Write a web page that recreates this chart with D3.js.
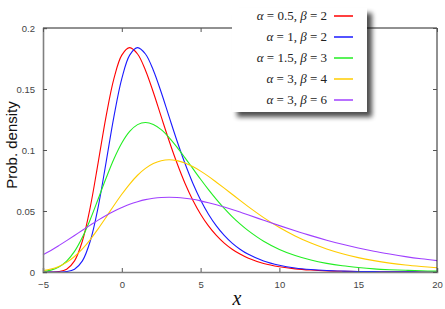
<!DOCTYPE html>
<html>
<head>
<meta charset="utf-8">
<script src="https://cdn.jsdelivr.net/npm/d3@7"></script>
<style>
  body { margin: 0; background: #fff; }
  svg { display: block; }
</style>
</head>
<body>
<div class="chart"></div>
<script>
const xs = [-5, -4.5, -4, -3.5, -3, -2.5, -2, -1.5, -1, -0.5, 0, 0.5, 1, 1.5, 2, 2.5, 3, 3.5, 4, 4.5,
            5, 5.5, 6, 6.5, 7, 7.5, 8, 9, 10, 11, 12, 13, 14, 15, 16, 17, 18, 19, 20];

// density values, one array per curve
const red = [0, 0.00003, 0.00036, 0.0023, 0.0091, 0.0254, 0.0532, 0.0897, 0.1274, 0.1585, 0.1778, 0.1839, 0.1787, 0.1654, 0.1473, 0.1273, 0.1076, 0.0893, 0.0730, 0.0591,
             0.0474, 0.0378, 0.0300, 0.0237, 0.0187, 0.0147, 0.0115, 0.0070, 0.0043, 0.0026, 0.0016, 0.00096, 0.00059, 0.00036, 0.00022, 0.00013, 0.00008, 0.00005, 0.00003];
const blue = [0, 0, 0.00003, 0.00036, 0.0023, 0.0091, 0.0254, 0.0532, 0.0897, 0.1274, 0.1585, 0.1778, 0.1839, 0.1787, 0.1654, 0.1473, 0.1273, 0.1076, 0.0893, 0.0730,
              0.0591, 0.0474, 0.0378, 0.0300, 0.0237, 0.0187, 0.0147, 0.0090, 0.0055, 0.0033, 0.0020, 0.0012, 0.00075, 0.00046, 0.00028, 0.00017, 0.0001, 0.00006, 0.00004];
const green = [0.00047, 0.00152, 0.0040, 0.0089, 0.0169, 0.0285, 0.0431, 0.0598, 0.0768, 0.0926, 0.1057, 0.1152, 0.1208, 0.1226, 0.1210, 0.1167, 0.1102, 0.1024, 0.0938, 0.0849,
               0.0760, 0.0675, 0.0595, 0.0521, 0.0454, 0.0394, 0.0341, 0.0252, 0.0185, 0.0135, 0.0098, 0.0071, 0.0051, 0.0037, 0.0026, 0.0019, 0.0014, 0.00097, 0.0007];
const yellow = [0.00114, 0.0024, 0.0046, 0.0079, 0.0127, 0.0189, 0.0266, 0.0354, 0.0448, 0.0545, 0.0637, 0.0721, 0.0793, 0.0849, 0.0889, 0.0912, 0.0920, 0.0913, 0.0894, 0.0864,
                0.0827, 0.0784, 0.0736, 0.0687, 0.0637, 0.0587, 0.0538, 0.0446, 0.0365, 0.0296, 0.0237, 0.0189, 0.0150, 0.0118, 0.0093, 0.0073, 0.0057, 0.0045, 0.0035];
const purple = [0.0142, 0.0177, 0.0216, 0.0257, 0.0299, 0.0342, 0.0384, 0.0425, 0.0463, 0.0498, 0.0528, 0.0555, 0.0576, 0.0593, 0.0604, 0.0611, 0.0613, 0.0611, 0.0605, 0.0596,
                0.0583, 0.0568, 0.0551, 0.0532, 0.0512, 0.0491, 0.0469, 0.0424, 0.0380, 0.0338, 0.0298, 0.0261, 0.0227, 0.0197, 0.0170, 0.0147, 0.0126, 0.0108, 0.0093];

// legend labels: [alpha, beta]
const alphas = ["0.5", "1", "1.5", "3", "3"];
const betas = ["2", "2", "3", "4", "6"];
const colors = ["#ff0000", "#1a1aff", "#22ee22", "#ffcc00", "#a040ff"];
const series = [red, blue, green, yellow, purple];

const xTicks = [-5, 0, 5, 10, 15, 20];
const yTicks = [0, 0.05, 0.1, 0.15, 0.2];
const yTickLabels = ["0", "0.05", "0.1", "0.15", "0.2"];

const W = 445, H = 309;
const margin = { top: 28, right: 8, bottom: 37, left: 43 };
const width = W - margin.left - margin.right;
const height = H - margin.top - margin.bottom;

const root = d3.select(".chart").append("svg")
    .attr("width", W)
    .attr("height", H);

// shadow for the legend
const filt = root.append("defs").append("filter")
    .attr("id", "shadow")
    .attr("x", "-20%").attr("y", "-20%")
    .attr("width", "150%").attr("height", "150%");
filt.append("feGaussianBlur").attr("in", "SourceAlpha").attr("stdDeviation", 2.5);
filt.append("feOffset").attr("dx", 5).attr("dy", 5).attr("result", "blur");
filt.append("feComponentTransfer").append("feFuncA").attr("type", "linear").attr("slope", 0.7);

const svg = root.append("g")
    .attr("transform", `translate(${margin.left}, ${margin.top})`);

const xScale = d3.scaleLinear().domain([-5, 20]).range([0, width]);
const yScale = d3.scaleLinear().domain([0, 0.2]).range([height, 0]);

// curves
const line = d3.line()
    .x(d => xScale(d[0]))
    .y(d => yScale(d[1]))
    .curve(d3.curveCatmullRom);

series.forEach((vals, i) => {
    svg.append("path")
        .datum(xs.map((x, j) => [x, vals[j]]))
        .attr("d", line)
        .attr("fill", "none")
        .attr("stroke", colors[i])
        .attr("stroke-width", 1.1);
});

// frame: top and right dark, left and bottom grey
svg.append("line").attr("x1", 0).attr("x2", width).attr("y1", 0).attr("y2", 0)
    .attr("stroke", "#222").attr("stroke-width", 1);
svg.append("line").attr("x1", width).attr("x2", width).attr("y1", 0).attr("y2", height)
    .attr("stroke", "#222").attr("stroke-width", 1);

// axes with inner ticks
const xAxis = d3.axisBottom(xScale).tickValues(xTicks).tickSize(-4).tickPadding(9).tickFormat(d3.format("d"));
const yAxis = d3.axisLeft(yScale).tickValues(yTicks).tickSize(-4).tickPadding(8)
    .tickFormat((d, i) => yTickLabels[i]);

const gx = svg.append("g").attr("transform", `translate(0, ${height})`).call(xAxis);
const gy = svg.append("g").call(yAxis);
[gx, gy].forEach(g => {
    g.select(".domain").attr("stroke", "#808080").attr("stroke-width", 1.6);
    g.selectAll(".tick line").attr("stroke", "#555");
    g.selectAll(".tick text")
        .attr("fill", "#444")
        .style("font-family", "'Liberation Sans', Arial, sans-serif")
        .style("font-size", "9.5px");
});

// mirrored ticks on top and right
svg.append("g").call(d3.axisTop(xScale).tickValues(xTicks).tickSize(-4).tickFormat(""))
    .call(g => g.select(".domain").remove())
    .selectAll(".tick line").attr("stroke", "#555");
svg.append("g").attr("transform", `translate(${width}, 0)`)
    .call(d3.axisRight(yScale).tickValues(yTicks).tickSize(-4).tickFormat(""))
    .call(g => g.select(".domain").remove())
    .selectAll(".tick line").attr("stroke", "#555");

// axis titles
root.append("text")
    .attr("transform", "translate(17, 145) rotate(-90)")
    .attr("text-anchor", "middle")
    .style("font-family", "'Liberation Sans', Arial, sans-serif")
    .style("font-size", "15px")
    .attr("fill", "#111")
    .text("Prob. density");

root.append("text")
    .attr("x", 237)
    .attr("y", 305)
    .attr("text-anchor", "middle")
    .style("font-family", "'Liberation Serif', 'Times New Roman', serif")
    .style("font-style", "italic")
    .style("font-size", "20px")
    .attr("fill", "#111")
    .text("x");

// legend
const lg = root.append("g").attr("transform", "translate(232, 8)");
lg.append("rect")
    .attr("width", 135).attr("height", 104)
    .attr("fill", "#555")
    .attr("filter", "url(#shadow)");
lg.append("rect")
    .attr("width", 135).attr("height", 104)
    .attr("fill", "#fff");

alphas.forEach((a, i) => {
    const y = 8 + 21 * i;
    const t = lg.append("text")
        .attr("x", 95).attr("y", y + 4)
        .attr("text-anchor", "end")
        .style("font-family", "'Liberation Serif', 'Times New Roman', serif")
        .style("font-size", "13px")
        .attr("fill", "#222");
    t.append("tspan").style("font-style", "italic").text("α");
    t.append("tspan").text(` = ${a}, `);
    t.append("tspan").style("font-style", "italic").text("β");
    t.append("tspan").text(` = ${betas[i]}`);
    lg.append("line")
        .attr("x1", 102).attr("x2", 121)
        .attr("y1", y).attr("y2", y)
        .attr("stroke", colors[i])
        .attr("stroke-width", 1.5);
});
</script>
</body>
</html>
